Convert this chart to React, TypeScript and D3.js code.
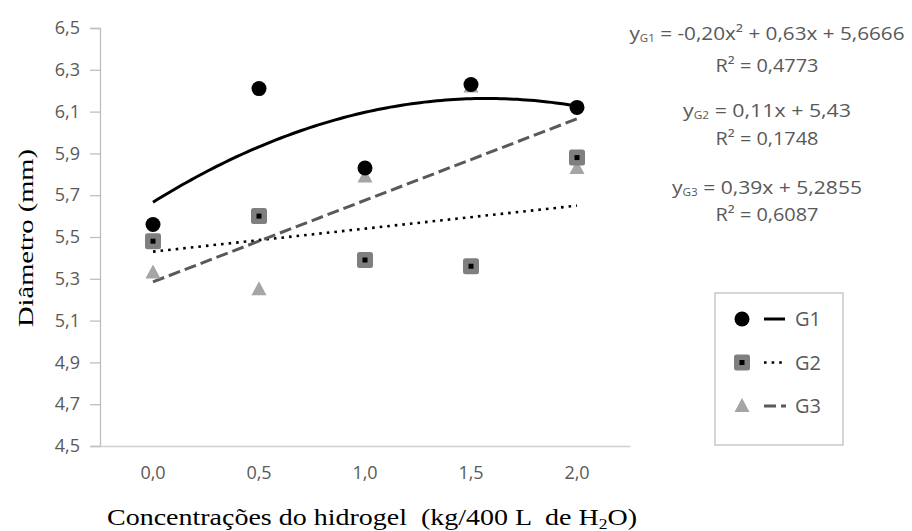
import * as React from 'react'
import { useEffect, useRef } from 'react'
import * as d3 from 'd3'

const concentrations = [0, 0.5, 1, 1.5, 2]
const categoryLabels = ['0,0', '0,5', '1,0', '1,5', '2,0']
const yTicks = [4.5, 4.7, 4.9, 5.1, 5.3, 5.5, 5.7, 5.9, 6.1, 6.3, 6.5]

const g1Values = [5.56, 6.21, 5.83, 6.23, 6.12]
const g2Values = [5.48, 5.60, 5.39, 5.36, 5.88]
const g3Values = [5.33, 5.25, 5.79, 6.22, 5.83]

// trendline coefficients (x = concentration)
const g1Coef = [-0.20, 0.63, 5.6666]
const g2Coef = [0.11, 5.43]
const g3Coef = [0.39, 5.2855]

const equations = [
  { name: 'G1', eq: ' = -0,20x² + 0,63x + 5,6666', r2: 'R² = 0,4773' },
  { name: 'G2', eq: ' = 0,11x + 5,43', r2: 'R² = 0,1748' },
  { name: 'G3', eq: ' = 0,39x + 5,2855', r2: 'R² = 0,6087' },
]

const legendItems = ['G1', 'G2', 'G3']

const width = 912
const height = 531
const sans = "'Open Sans', 'DejaVu Sans', sans-serif"
const serif = "'Liberation Serif', 'DejaVu Serif', serif"
const tickColor = '#595959'

// text layout of the equation block (baseline y, drawn width)
const eqLayout = [
  { y: 40, w: 275, ry: 72 },
  { y: 117, w: 168, ry: 145 },
  { y: 194, w: 190, ry: 221 },
]

const App = () => {
  const chartRef = useRef(null)

  useEffect(() => {
    d3.select(chartRef.current).selectAll('*').remove()
    const svg = d3.select(chartRef.current)

    svg.append('rect').attr('width', width).attr('height', height).attr('fill', '#fff')

    const xBand = d3.scaleBand().domain(categoryLabels).range([100, 630])
    const x0 = xBand(categoryLabels[0]) + xBand.bandwidth() / 2
    const x4 = xBand(categoryLabels[4]) + xBand.bandwidth() / 2
    const xLin = d3.scaleLinear().domain([0, 2]).range([x0, x4])
    const yScale = d3.scaleLinear().domain([4.5, 6.5]).range([446, 28])

    // y axis
    const yAxis = svg.append('g')
      .attr('transform', 'translate(100,0)')
      .call(d3.axisLeft(yScale).tickValues(yTicks).tickSize(10).tickPadding(10)
        .tickFormat(d => d3.format('.1f')(d).replace('.', ',')))
    yAxis.select('.domain').attr('stroke', '#bfbfbf').attr('stroke-width', 1.3)
    yAxis.selectAll('.tick line').attr('stroke', '#bfbfbf').attr('stroke-width', 1.3)
    yAxis.selectAll('text').attr('fill', tickColor).style('font-size', '18px').style('font-family', sans)

    // x axis
    const xAxis = svg.append('g')
      .attr('transform', 'translate(0,446)')
      .call(d3.axisBottom(xBand).tickSize(0).tickPadding(20))
    xAxis.select('.domain').attr('stroke', '#d0d0d0').attr('stroke-width', 1.3)
    xAxis.selectAll('text').attr('fill', tickColor).style('font-size', '18px').style('font-family', sans)

    // trendlines
    const xs = d3.range(0, 2.0001, 0.02)
    const line = d3.line().x(d => xLin(d[0])).y(d => yScale(d[1]))
    svg.append('path')
      .datum(xs.map(x => [x, g1Coef[0] * x * x + g1Coef[1] * x + g1Coef[2]]))
      .attr('d', line).attr('fill', 'none').attr('stroke', '#000').attr('stroke-width', 3)
    svg.append('path')
      .datum([0, 2].map(x => [x, g2Coef[0] * x + g2Coef[1]]))
      .attr('d', line).attr('fill', 'none').attr('stroke', '#000').attr('stroke-width', 2.6)
      .attr('stroke-dasharray', '2.6,5')
    svg.append('path')
      .datum([0, 2].map(x => [x, g3Coef[0] * x + g3Coef[1]]))
      .attr('d', line).attr('fill', 'none').attr('stroke', '#595959').attr('stroke-width', 3)
      .attr('stroke-dasharray', '12,5')

    const drawCircle = (g, cx, cy) => {
      g.append('circle').attr('cx', cx).attr('cy', cy).attr('r', 7.5).attr('fill', '#000')
    }
    const drawSquare = (g, cx, cy) => {
      g.append('rect').attr('x', cx - 8).attr('y', cy - 8).attr('width', 16).attr('height', 16)
        .attr('rx', 2.5).attr('fill', '#7f7f7f')
      g.append('rect').attr('x', cx - 2.5).attr('y', cy - 2.5).attr('width', 5).attr('height', 5).attr('fill', '#000')
    }
    const drawTriangle = (g, cx, cy) => {
      g.append('path').attr('d', `M${cx},${cy - 8}L${cx + 7.5},${cy + 6}L${cx - 7.5},${cy + 6}Z`)
        .attr('fill', '#a5a5a5')
    }

    const pts = svg.append('g')
    g3Values.forEach((v, i) => drawTriangle(pts, xLin(concentrations[i]), yScale(v)))
    g2Values.forEach((v, i) => drawSquare(pts, xLin(concentrations[i]), yScale(v)))
    g1Values.forEach((v, i) => drawCircle(pts, xLin(concentrations[i]), yScale(v)))

    // equations
    const eqG = svg.append('g').attr('fill', tickColor).style('font-family', sans).style('font-size', '18px')
    equations.forEach((e, i) => {
      const lay = eqLayout[i]
      const t = eqG.append('text').attr('x', 767).attr('y', lay.y).attr('text-anchor', 'middle')
        .attr('textLength', lay.w).attr('lengthAdjust', 'spacingAndGlyphs')
      t.append('tspan').text('y')
      t.append('tspan').text(e.name).style('font-size', '10px').attr('dy', 2)
      t.append('tspan').text(e.eq).attr('dy', -2)
      eqG.append('text').attr('x', 767).attr('y', lay.ry).attr('text-anchor', 'middle')
        .attr('textLength', 103).attr('lengthAdjust', 'spacingAndGlyphs').text(e.r2)
    })

    // legend
    const leg = svg.append('g')
    leg.append('rect').attr('x', 715).attr('y', 293).attr('width', 128).attr('height', 152)
      .attr('fill', '#fff').attr('stroke', '#bfbfbf').attr('stroke-width', 1.3)
    const legY = d3.scalePoint().domain(legendItems).range([319, 406])
    drawCircle(leg, 742, legY('G1'))
    drawSquare(leg, 742, legY('G2'))
    drawTriangle(leg, 742, legY('G3'))
    leg.append('line').attr('x1', 764).attr('x2', 785).attr('y1', legY('G1')).attr('y2', legY('G1'))
      .attr('stroke', '#000').attr('stroke-width', 3)
    leg.append('line').attr('x1', 764).attr('x2', 785).attr('y1', legY('G2')).attr('y2', legY('G2'))
      .attr('stroke', '#000').attr('stroke-width', 2.6).attr('stroke-dasharray', '2.6,5')
    leg.append('line').attr('x1', 764).attr('x2', 786).attr('y1', legY('G3')).attr('y2', legY('G3'))
      .attr('stroke', '#595959').attr('stroke-width', 3).attr('stroke-dasharray', '12,5')
    legendItems.forEach(name => {
      leg.append('text').attr('x', 795).attr('y', legY(name) + 7).attr('fill', tickColor)
        .style('font-family', sans).style('font-size', '20px').text(name)
    })

    // axis titles
    svg.append('text')
      .attr('transform', 'translate(33,238) rotate(-90)')
      .attr('text-anchor', 'middle')
      .attr('textLength', 178).attr('lengthAdjust', 'spacingAndGlyphs')
      .style('font-family', serif).style('font-size', '22px').attr('fill', '#000')
      .text('Diâmetro (mm)')

    const xt = svg.append('text').attr('x', 372).attr('y', 525).attr('text-anchor', 'middle')
      .attr('textLength', 530).attr('lengthAdjust', 'spacingAndGlyphs')
      .style('font-family', serif).style('font-size', '24px').attr('fill', '#000')
      .style('white-space', 'pre')
    xt.append('tspan').text('Concentrações do hidrogel  (kg/400 L  de H')
    xt.append('tspan').text('2').style('font-size', '15px').attr('dy', 4)
    xt.append('tspan').text('O)').attr('dy', -4)
  }, [])

  return (
    <svg ref={chartRef} width={width} height={height}
      style={{ position: 'absolute', left: 0, top: 0, background: '#fff' }}></svg>
  )
}

export default App
